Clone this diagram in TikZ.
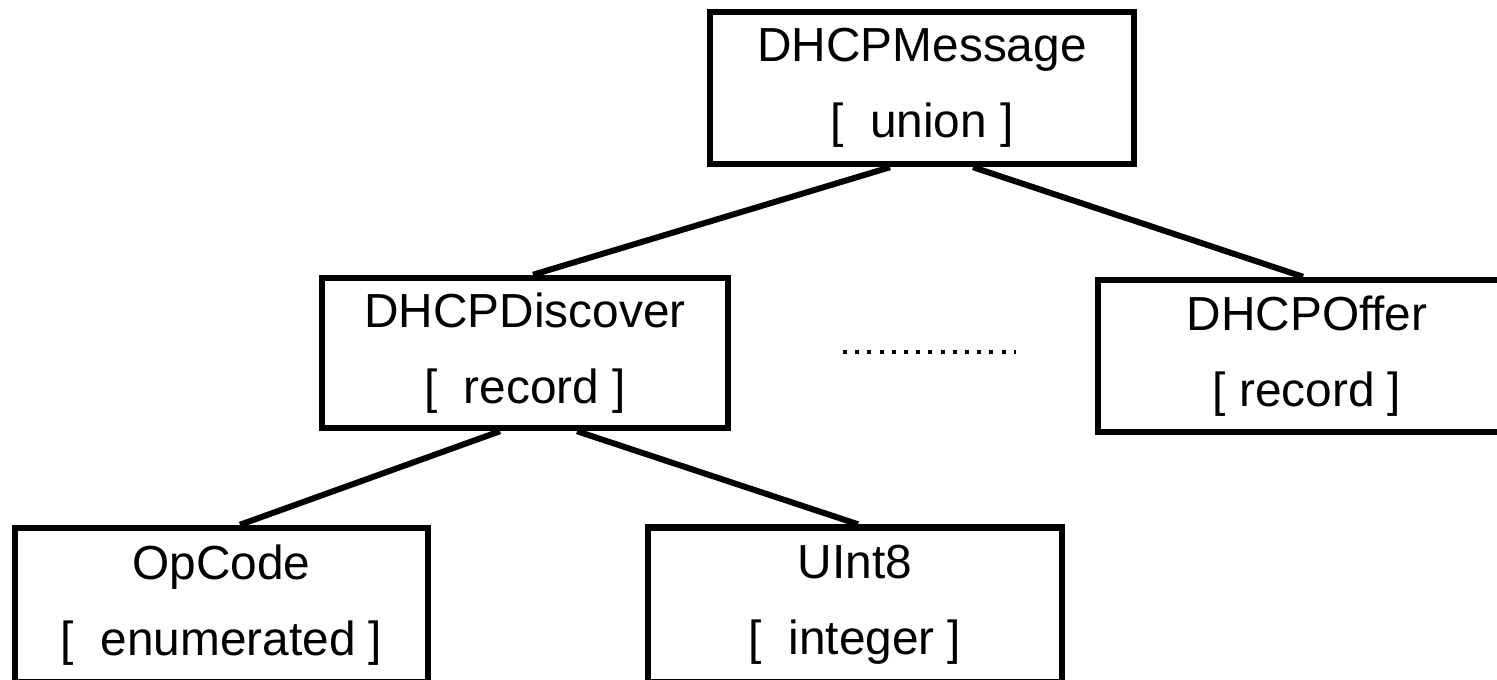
\documentclass[tikz,border=0pt]{standalone}
\usepackage{fontspec}
\setmainfont{Liberation Sans}
\usepackage{tikz}

\begin{document}
\begin{tikzpicture}[
        typebox/.style={draw, line width=0.13cm, fill=white, align=center, inner sep=0pt,
            font=\fontsize{27.2pt}{43pt}\selectfont,
            execute at begin node={\rule{0pt}{24.5pt}}},
        link/.style={line width=0.12cm}
    ]
        \useasboundingbox (0,0) rectangle (29.94,13.6);
        \node (msg) at (18.44,11.84) [typebox, minimum width=8.48cm, minimum height=3.04cm] {DHCPMessage\\{[}~~union ]};
        \node (discover) at (10.5,6.54) [typebox, minimum width=8.12cm, minimum height=3.0cm] {DHCPDiscover\\{[}~~record ]};
        \node (offer) at (26.14,6.48) [typebox, minimum width=8.36cm, minimum height=3.04cm] {DHCPOffer\\{[} record ]};
        \node (opcode) at (4.43,1.5) [typebox, minimum width=8.26cm, minimum height=3.08cm] {OpCode\\{[}~~enumerated ]};
        \node (uint) at (17.1,1.5) [typebox, minimum width=8.28cm, minimum height=3.1cm] {UInt8\\{[}~~integer ]};
        \draw [link] ([xshift=-0.64cm]msg.south) -- ([xshift=0.16cm]discover.north);
        \draw [link] ([xshift=1.02cm]msg.south) -- ([xshift=-0.08cm]offer.north);
        \draw [link] ([xshift=-0.5cm]discover.south) -- ([xshift=0.37cm]opcode.north);
        \draw [link] ([xshift=1.04cm]discover.south) -- ([xshift=0.06cm]uint.north);
        \coordinate (gapL) at (16.86,6.56);
        \coordinate (gapR) at (20.32,6.56);
        \draw [line width=0.09cm, dash pattern=on 0.08cm off 0.164cm] (gapL) -- (gapR);
    \end{tikzpicture}
\end{document}
